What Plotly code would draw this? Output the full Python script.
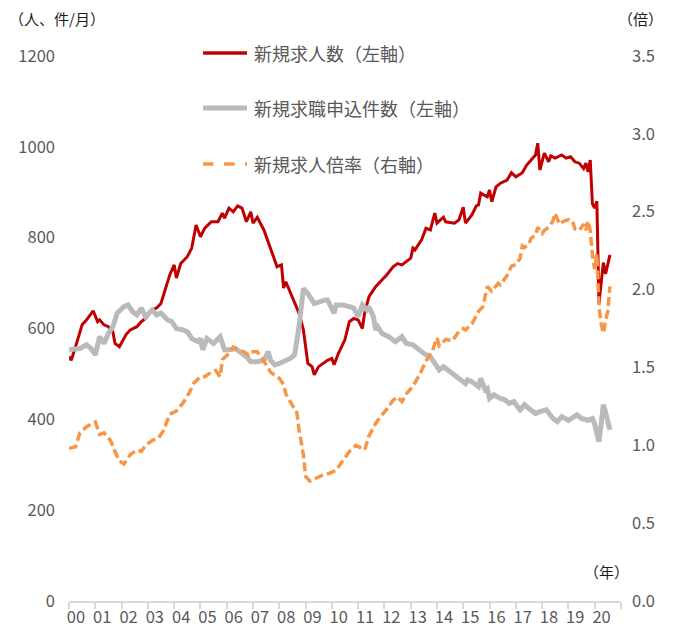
import plotly.graph_objects as go

# 新規求人数（左軸）
offers_dates = [
    "2000-01", "2000-02", "2000-04", "2000-07", "2000-09", "2000-12", "2001-02", "2001-03", "2001-05", "2001-07",
    "2001-09", "2001-10", "2001-12", "2002-03", "2002-05", "2002-08", "2002-10", "2002-12", "2003-03", "2003-05",
    "2003-07", "2003-09", "2003-11", "2004-01", "2004-02", "2004-04", "2004-07", "2004-09", "2004-11", "2005-01",
    "2005-03", "2005-06", "2005-09", "2005-11", "2005-12", "2006-02", "2006-04", "2006-06", "2006-08", "2006-10",
    "2006-12", "2007-01", "2007-03", "2007-06", "2007-09", "2007-12", "2008-02", "2008-03", "2008-04", "2008-07",
    "2008-10", "2008-12", "2009-02", "2009-04", "2009-05", "2009-07", "2009-09", "2009-11", "2010-01", "2010-02",
    "2010-04", "2010-07", "2010-09", "2010-11", "2011-01", "2011-03", "2011-04", "2011-06", "2011-09", "2011-12",
    "2012-02", "2012-05", "2012-07", "2012-09", "2013-01", "2013-02", "2013-03", "2013-06", "2013-08", "2013-10",
    "2013-12", "2014-01", "2014-04", "2014-05", "2014-09", "2014-11", "2015-01", "2015-02", "2015-05", "2015-07",
    "2015-08", "2015-09", "2015-12", "2016-01", "2016-02", "2016-04", "2016-06", "2016-09", "2016-11", "2017-01",
    "2017-04", "2017-06", "2017-08", "2017-10", "2017-11", "2017-12", "2018-02", "2018-04", "2018-05", "2018-07",
    "2018-10", "2018-12", "2019-02", "2019-04", "2019-06", "2019-08", "2019-09", "2019-10", "2019-11", "2019-12",
    "2020-01", "2020-02", "2020-03", "2020-04", "2020-05", "2020-06", "2020-07", "2020-08",
]
offers = [
    538, 530, 560, 608, 619, 639, 615, 619, 608, 604,
    593, 567, 560, 586, 597, 604, 615, 622, 641, 645,
    655, 685, 718, 740, 711, 743, 758, 777, 828, 802,
    821, 835, 835, 854, 843, 865, 857, 870, 865, 835,
    857, 832, 845, 817, 777, 736, 740, 689, 703, 670,
    634, 597, 523, 516, 498, 516, 523, 530, 534, 520,
    545, 575, 615, 622, 619, 600, 634, 670, 692, 707,
    718, 736, 743, 740, 755, 777, 773, 795, 821, 817,
    854, 832, 845, 835, 832, 839, 867, 832, 850, 870,
    872, 898, 890, 905, 879, 912, 920, 927, 943, 934,
    943, 960, 972, 982, 1008, 949, 986, 967, 980, 975,
    982, 975, 978, 967, 964, 952, 964, 945, 971, 875,
    865, 880, 655, 705, 745, 720, 740, 762,
]

# 新規求職申込件数（左軸）
applicants_dates = [
    "2000-01", "2000-06", "2000-09", "2000-11", "2001-01", "2001-03", "2001-05", "2001-07", "2001-09", "2001-11",
    "2002-02", "2002-04", "2002-06", "2002-08", "2002-10", "2002-12", "2003-03", "2003-05", "2003-07", "2003-10",
    "2003-12", "2004-02", "2004-05", "2004-07", "2004-09", "2004-12", "2005-01", "2005-02", "2005-04", "2005-07",
    "2005-10", "2005-12", "2006-02", "2006-05", "2006-08", "2006-10", "2006-12", "2007-03", "2007-06", "2007-08",
    "2007-09", "2007-11", "2008-01", "2008-03", "2008-06", "2008-08", "2008-10", "2008-12", "2009-02", "2009-05",
    "2009-07", "2009-10", "2009-11", "2010-02", "2010-03", "2010-06", "2010-09", "2010-11", "2011-01", "2011-03",
    "2011-05", "2011-06", "2011-08", "2011-09", "2011-10", "2011-12", "2012-03", "2012-06", "2012-09", "2012-11",
    "2013-02", "2013-05", "2013-07", "2013-10", "2014-01", "2014-02", "2014-04", "2014-07", "2014-10", "2015-02",
    "2015-03", "2015-05", "2015-08", "2015-09", "2015-11", "2015-12", "2016-01", "2016-03", "2016-06", "2016-08",
    "2016-10", "2016-12", "2017-03", "2017-05", "2017-07", "2017-10", "2017-12", "2018-03", "2018-06", "2018-08",
    "2018-10", "2019-01", "2019-05", "2019-07", "2019-10", "2019-12", "2020-01", "2020-02", "2020-03", "2020-04",
    "2020-05", "2020-06", "2020-07", "2020-08",
]
applicants = [
    553, 556, 564, 556, 542, 582, 567, 589, 604, 634,
    648, 652, 637, 630, 645, 626, 641, 630, 634, 619,
    615, 600, 597, 593, 578, 571, 578, 553, 578, 567,
    582, 553, 553, 556, 545, 538, 527, 527, 530, 549,
    530, 520, 523, 527, 534, 542, 604, 688, 677, 655,
    659, 663, 663, 634, 652, 652, 648, 645, 626, 652,
    641, 648, 626, 597, 604, 589, 582, 571, 582, 567,
    564, 553, 545, 538, 516, 509, 516, 505, 494, 479,
    487, 483, 472, 490, 465, 468, 446, 454, 446, 443,
    435, 439, 421, 432, 424, 413, 417, 421, 402, 395,
    406, 398, 410, 402, 398, 402, 390, 370, 351, 390,
    432, 415, 395, 377,
]

# 新規求人倍率（右軸）
ratio_dates = [
    "2000-01", "2000-04", "2000-06", "2000-09", "2001-01", "2001-03", "2001-05", "2001-08", "2001-10", "2001-12",
    "2002-02", "2002-05", "2002-08", "2002-10", "2002-12", "2003-03", "2003-06", "2003-08", "2003-11", "2004-02",
    "2004-05", "2004-08", "2004-10", "2005-01", "2005-03", "2005-05", "2005-08", "2005-10", "2005-11", "2006-02",
    "2006-04", "2006-06", "2006-09", "2006-11", "2006-12", "2007-03", "2007-06", "2007-09", "2007-11", "2008-01",
    "2008-03", "2008-04", "2008-06", "2008-09", "2008-10", "2008-12", "2009-01", "2009-03", "2009-06", "2009-09",
    "2009-12", "2010-03", "2010-06", "2010-09", "2010-12", "2011-04", "2011-06", "2011-09", "2011-11", "2012-02",
    "2012-05", "2012-07", "2012-09", "2012-11", "2013-02", "2013-05", "2013-08", "2013-11", "2014-01", "2014-02",
    "2014-05", "2014-08", "2014-11", "2015-01", "2015-02", "2015-05", "2015-07", "2015-08", "2015-10", "2015-11",
    "2015-12", "2016-02", "2016-05", "2016-06", "2016-09", "2016-11", "2017-01", "2017-03", "2017-04", "2017-05",
    "2017-07", "2017-08", "2017-10", "2017-11", "2018-01", "2018-02", "2018-04", "2018-06", "2018-07", "2018-09",
    "2018-11", "2019-01", "2019-03", "2019-04", "2019-06", "2019-08", "2019-09", "2019-10", "2019-11", "2019-12",
    "2020-01", "2020-02", "2020-03", "2020-04", "2020-05", "2020-06", "2020-07", "2020-08",
]
ratio = [
    0.98, 0.99, 1.08, 1.12, 1.15, 1.07, 1.08, 1.03, 0.96, 0.90,
    0.88, 0.94, 0.97, 0.96, 1.00, 1.03, 1.05, 1.09, 1.20, 1.22,
    1.27, 1.34, 1.40, 1.44, 1.44, 1.46, 1.48, 1.44, 1.55, 1.59,
    1.63, 1.61, 1.60, 1.58, 1.60, 1.60, 1.54, 1.47, 1.45, 1.43,
    1.39, 1.33, 1.28, 1.21, 1.10, 0.94, 0.80, 0.77, 0.79, 0.81,
    0.82, 0.84, 0.90, 0.96, 1.00, 0.97, 1.06, 1.14, 1.18, 1.23,
    1.29, 1.31, 1.28, 1.33, 1.38, 1.45, 1.54, 1.61, 1.69, 1.64,
    1.68, 1.67, 1.73, 1.75, 1.74, 1.78, 1.83, 1.86, 1.89, 1.95,
    2.02, 1.99, 2.04, 2.03, 2.09, 2.15, 2.16, 2.20, 2.28, 2.27,
    2.29, 2.33, 2.35, 2.40, 2.36, 2.38, 2.40, 2.44, 2.49, 2.42,
    2.44, 2.45, 2.44, 2.39, 2.38, 2.42, 2.38, 2.44, 2.38, 2.22,
    2.13, 2.23, 1.89, 1.78, 1.72, 1.80, 1.86, 2.02,
]

year_ticks = [f"{y}-04-07" for y in range(2000, 2021)]
year_labels = ["00", "01", "02", "03", "04", "05", "06", "07", "08", "09", "10",
               "11", "12", "13", "14", "15", "16", "17", "18", "19", "20"]

RED = "#C00000"
GRAY = "#BABABA"
ORANGE = "#F79646"
FONT = "Noto Sans CJK JP"

fig = go.Figure()
fig.add_scatter(x=offers_dates, y=offers, mode="lines", name="新規求人数（左軸）",
                line={"color": RED, "width": 3})
fig.add_scatter(x=applicants_dates, y=applicants, mode="lines", name="新規求職申込件数（左軸）",
                line={"color": GRAY, "width": 5})
fig.add_scatter(x=ratio_dates, y=ratio, mode="lines", name="新規求人倍率（右軸）", yaxis="y2",
                line={"color": ORANGE, "width": 3.5, "dash": "9px,4px"})

# legend drawn by hand so the sample lines are as long as in the original
legend_rows = [("新規求人数（左軸）", RED, 3.5, None, 1.0055),
               ("新規求職申込件数（左軸）", GRAY, 5, None, 0.9046),
               ("新規求人倍率（右軸）", ORANGE, 3.5, "dash", 0.8018)]
for label, color, width, dash, ypos in legend_rows:
    line = {"color": color, "width": width}
    if dash:
        line["dash"] = dash
    fig.add_shape(type="line", xref="paper", yref="paper", x0=0.2428, x1=0.3225, y0=ypos, y1=ypos,
                  line=line)
    fig.add_annotation(text=label, xref="paper", yref="paper", x=0.3315, y=ypos, xanchor="left",
                       yanchor="middle", showarrow=False, font={"size": 18, "color": "#595959"})

fig.add_annotation(text="（人、件/月）", xref="paper", yref="paper", x=-0.112, y=1.068,
                   xanchor="left", yanchor="middle", showarrow=False, font={"size": 15, "color": "#1a1a1a"})
fig.add_annotation(text="（倍）", xref="paper", yref="paper", x=1.080, y=1.068,
                   xanchor="right", yanchor="middle", showarrow=False, font={"size": 15, "color": "#1a1a1a"})
fig.add_annotation(text="（年）", xref="paper", yref="paper", x=1.018, y=0.055,
                   xanchor="right", yanchor="middle", showarrow=False, font={"size": 15, "color": "#1a1a1a"})

# the page body adds an 8px margin, so the figure is 8px smaller and margins shifted
fig.update_layout(
    width=667, height=624, margin={"l": 61, "r": 54, "t": 48, "b": 31},
    plot_bgcolor="white", paper_bgcolor="white", showlegend=False,
    font={"family": FONT, "size": 16, "color": "#595959"},
    xaxis={"type": "date", "range": ["1999-12-31 12:00", "2021-01-01 12:00"],
           "tickvals": year_ticks, "ticktext": year_labels, "ticks": "",
           "minor": {"ticks": "outside", "ticklen": 6, "tickcolor": "#D9D9D9", "tickwidth": 1.5,
                     "dtick": "M12", "tick0": "2000-01-01", "showgrid": False},
           "showline": True, "linecolor": "#D9D9D9", "linewidth": 1.5,
           "showgrid": False, "zeroline": False, "automargin": False,
           "tickfont": {"size": 16.5, "color": "#595959"}},
    yaxis={"range": [0, 1200], "dtick": 200, "showgrid": False, "zeroline": False,
           "showline": False, "ticks": "", "ticklabelstandoff": 13, "automargin": False,
           "tickfont": {"size": 16.5, "color": "#595959"}},
    yaxis2={"range": [0, 3.5], "dtick": 0.5, "tickformat": ".1f", "overlaying": "y", "side": "right",
            "showgrid": False, "zeroline": False, "showline": False, "ticks": "",
            "ticklabelstandoff": 10, "automargin": False,
            "tickfont": {"size": 16.5, "color": "#595959"}},
)

fig.write_html("out.html")
